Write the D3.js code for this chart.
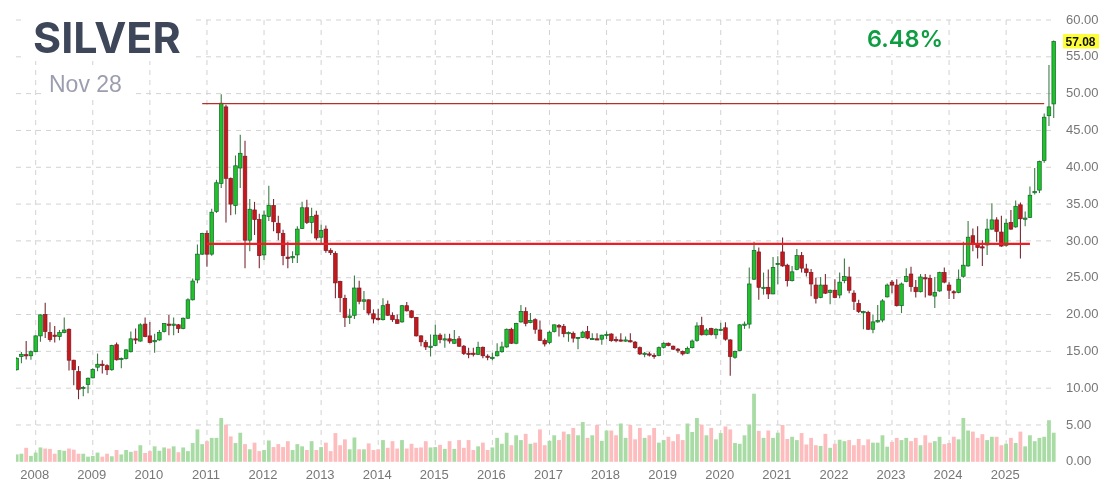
<!DOCTYPE html>
<html>
<head>
<meta charset="utf-8">
<script src="https://cdnjs.cloudflare.com/ajax/libs/d3/7.8.5/d3.min.js"></script>
<style>
  html, body { margin: 0; padding: 0; background: #fff; }
  svg { display: block; filter: blur(0.35px); }
  .axis text { font-family: "Liberation Sans", Arial, sans-serif; font-size: 13px; fill: #777; }
  .axis path, .axis line { display: none; }
</style>
</head>
<body>
<svg id="chart" width="1108" height="493"></svg>
<script>
// monthly candles, Sep 2007 .. Nov 2025
const opens = [
  12.5, 14.3, 14.55, 14.4,
  14.95, 17.1, 20, 17.55, 17.2, 17, 17.55, 18, 13.8, 12.25, 10, 10.5,
  11.4, 12.85, 13.25, 13.05, 12.5, 15.9, 13.9, 14.05, 14.95, 16.7, 16.4, 18.7,
  17.1, 16.3, 16.55, 17.7, 18.7, 18.6, 18.6, 18.1, 19.5, 22, 24.7, 28.2,
  31, 28.2, 34, 37.8, 48.2, 38.5, 34.8, 39.9, 41.5, 30.1, 34.2, 32.9,
  28.1, 33.3, 34.8, 32.4, 31, 27.8, 27.7, 28.1, 31.7, 34.5, 32.5, 33.5,
  30.5, 31.6, 28.7, 28.3, 24.5, 22.2, 19.6, 19.9, 23.6, 21.8, 22, 20.1,
  19.5, 19.3, 21.4, 19.9, 19.3, 19, 21.2, 20.5, 19.6, 17.1, 16.2, 15.6,
  15.8, 17.2, 16.6, 16.7, 16.1, 16.7, 15.7, 14.75, 14.75, 14.6, 15.55, 14.35,
  14.1, 14.4, 14.95, 15.6, 18, 16.1, 19, 20.4, 18.9, 19.3, 17.9, 16.5,
  16.2, 17.7, 18.5, 18.4, 17.45, 17.45, 16.8, 16.9, 17.7, 16.7, 16.7, 16.65,
  17.2, 17.35, 16.6, 16.55, 16.45, 16.45, 16.25, 15.5, 14.65, 14.65, 14.45, 14.45,
  15.55, 16.1, 15.7, 15.3, 15, 14.75, 15.5, 16.5, 18.5, 17.25, 18.1, 17.25,
  17.9, 18.2, 16.55, 14.2, 15.1, 18.6, 18.7, 24.8, 28.5, 23.6, 23.7, 22.8,
  26.85, 28.5, 26.7, 24.6, 26.1, 28, 26.2, 25.7, 24, 22.3, 24, 23,
  23.3, 22.65, 24.6, 25.1, 22.9, 21.5, 20.3, 20.3, 18, 19, 19.25, 22.4,
  24.4, 24, 21.2, 24.5, 25.5, 23.7, 23.1, 25, 24.9, 22.5, 23.2, 25.7,
  24, 23.1, 23, 25.2, 26.6, 30.7, 29.6, 29.2, 29.45, 31.6, 32.85, 31.2,
  29.4, 32.5, 31.9, 34.9, 33, 33.2, 36.6, 36.9, 40.9, 47, 48.6
];
const highs = [
  14.2, 14.9, 16.4, 15.1,
  17.2, 20, 21.6, 18.95, 18.45, 17.9, 19.6, 18.1, 13.85, 13, 10.3, 11.45,
  12.7, 14.7, 13.8, 13.25, 15.9, 16.2, 14.15, 15.3, 17.7, 18.1, 18.8, 19.6,
  19, 17.4, 17.9, 18.8, 19.95, 19.6, 18.7, 19.6, 22.2, 24.9, 29.5, 31.1,
  31.4, 34.35, 38.3, 49.9, 48.5, 38.6, 41.6, 44.4, 43.6, 35.7, 35.3, 33.7,
  34.1, 37.5, 35.7, 33.4, 31.5, 29.9, 28.6, 32, 35.3, 35.6, 34.5, 34.1,
  32.2, 32.1, 29, 28.6, 24.6, 22.7, 20.8, 25.3, 24.6, 23.2, 22.05, 20.7,
  20.8, 22.2, 21.9, 20.3, 20, 21.3, 21.7, 20.6, 19.65, 17.2, 16.55, 17.3,
  18.6, 17.45, 17.4, 17.4, 17.9, 17.1, 15.85, 15.5, 15.5, 16.3, 15.65, 14.6,
  14.8, 16.1, 16.3, 18.1, 18.2, 18.9, 21.3, 21, 20.2, 19.5, 19.2, 16.75,
  17.8, 18.65, 18.7, 18.7, 17.7, 17.7, 16.95, 17.8, 18.45, 17.45, 17.45, 17.25,
  17.7, 17.45, 17, 17.45, 17, 17.45, 16.4, 15.65, 14.9, 14.9, 14.75, 15.65,
  16.25, 16.2, 15.8, 15.45, 15.1, 15.65, 16.6, 18.95, 19.7, 18.15, 18.2, 18.15,
  18.9, 18.95, 16.65, 15.1, 18.7, 19.05, 26.4, 29.9, 29.1, 25.7, 26.1, 27.8,
  27.9, 30.45, 26.9, 26.6, 28.9, 28.5, 26.9, 26.2, 25, 25.1, 25.5, 23.4,
  24.8, 25.7, 27.6, 26.5, 23.3, 22, 20.5, 20.5, 20, 21.3, 22.1, 24.2,
  24.7, 24.8, 24.35, 26.3, 26.5, 24.7, 25.5, 25.5, 25.4, 25.1, 25.8, 26.4,
  24.4, 23.3, 26.1, 29.9, 32.7, 31.7, 32, 30.1, 33, 35.1, 33.2, 33.4,
  33, 34.2, 35.5, 35.2, 34, 37.4, 39.9, 40.9, 47.3, 53.9, 57.2
];
const lows = [
  12.4, 13.4, 13.9, 13.85,
  14.9, 16.3, 16.8, 16.3, 16.2, 16.5, 17.45, 12.4, 10.4, 8.5, 8.9, 9.3,
  11.35, 12.3, 12, 11.8, 12.35, 13.75, 12.7, 13.9, 14.85, 16, 16.3, 16.9,
  16.1, 14.8, 16.45, 17.55, 17.2, 17.2, 17.5, 18, 19.4, 21.9, 24.25, 28.1,
  26.5, 28, 33.8, 37.2, 32.5, 33.5, 33.6, 37.2, 26.3, 28.6, 30.8, 26.3,
  27.4, 32.7, 31.3, 30.1, 26.7, 26.3, 27, 27, 31.6, 32.3, 31, 30.1,
  29.5, 28.4, 28.1, 22.2, 20.3, 18.3, 18.7, 19.4, 21.4, 20.6, 19.9, 18.8,
  19.2, 19.2, 19.8, 19, 18.75, 18.9, 20.4, 19.5, 17, 15.7, 15.2, 14.3,
  15.7, 16.1, 15.5, 16.05, 16, 15.6, 14.5, 14.05, 14.3, 14.5, 14.05, 13.8,
  13.8, 14.3, 14.8, 15.5, 16, 15.95, 18.9, 18.4, 18.8, 17.4, 16.4, 15.65,
  16, 17.55, 17, 16.9, 16.3, 16.2, 15.3, 16.8, 16.65, 16.55, 16.55, 15.9,
  16.65, 16.3, 16.25, 16.3, 16.3, 16.2, 15.35, 14.5, 14.2, 14.3, 14, 14.35,
  15.4, 15.7, 15.2, 14.8, 14.45, 14.65, 15.4, 16.3, 17.15, 17.15, 17.15, 16.7,
  17.8, 16.45, 11.7, 14, 15, 18.05, 18.1, 24.7, 22, 22.7, 22.1, 22.75,
  24.1, 26.5, 23.8, 24.5, 26, 25.7, 25.15, 22.5, 21.5, 22.2, 22.8, 21.4,
  22.2, 22.2, 24.25, 22.9, 20.6, 20.2, 18, 17.9, 17.45, 18.9, 18.95, 22.3,
  22.9, 21.1, 20.2, 24.4, 23.1, 22.3, 23, 22.3, 22.55, 20.9, 23.1, 24.25,
  22.1, 22.1, 22.9, 25, 26.5, 28.6, 27.6, 26.6, 28.1, 31.5, 29.9, 29.2,
  29.2, 31.5, 31.8, 27.6, 32, 33.1, 36.3, 36.5, 40.6, 45.6, 46.7
];
const closes = [
  14.05, 14.6, 14.4, 14.95,
  17.1, 19.95, 17.7, 16.6, 17.1, 17.55, 17.9, 13.8, 12.5, 9.85, 10.1, 11.35,
  12.55, 13.25, 13.1, 12.5, 15.8, 13.85, 14.05, 15.2, 16.7, 16.55, 18.6, 17,
  16.2, 16.5, 17.55, 18.8, 18.6, 18.7, 18.1, 19.5, 22, 24.55, 28.2, 31,
  28.2, 33.9, 37.9, 48.7, 38.5, 35, 40.2, 41.9, 30.1, 34.3, 32.9, 28,
  33.5, 34.8, 32.6, 31.1, 28, 27.6, 27.9, 31.6, 34.5, 32.5, 33.3, 30.4,
  31.4, 28.7, 28.4, 24.3, 22.3, 19.6, 19.8, 23.6, 21.8, 22, 20.2, 19.4,
  19.3, 21.2, 19.9, 19.3, 18.8, 21.2, 20.5, 19.6, 17.1, 16.3, 15.6, 15.7,
  17.2, 16.6, 16.7, 16.4, 16.6, 15.7, 14.7, 14.7, 14.7, 15.55, 14.4, 14.25,
  14.2, 14.95, 15.6, 18, 16.1, 18.8, 20.4, 18.8, 19.2, 18, 16.5, 16,
  17.6, 18.6, 18.3, 17.4, 17.55, 16.8, 16.9, 17.6, 16.8, 16.75, 16.65, 17.2,
  17.3, 16.45, 16.5, 16.45, 16.55, 16.35, 15.5, 14.65, 14.75, 14.55, 14.35, 15.5,
  16.1, 15.8, 15.3, 15.25, 14.65, 15.4, 16.4, 18.45, 17.25, 17.9, 17.3, 18,
  18, 16.65, 14.3, 15, 18.6, 18.7, 24.15, 28.7, 23.7, 23.7, 22.8, 26.4,
  26.95, 26.6, 24.6, 25.8, 28, 26.3, 25.7, 24.15, 22.2, 24, 22.9, 23.3,
  22.3, 24.4, 25.15, 23.3, 21.8, 20.4, 20.4, 18, 19, 19.2, 21.85, 24,
  24, 21.2, 24.15, 25.15, 23.8, 23.1, 25.1, 24.9, 22.65, 23, 25.7, 24.4,
  23.3, 23, 24.8, 26.7, 30.5, 29.6, 29.1, 29.15, 31.6, 32.85, 31.3, 29.3,
  32.4, 31.6, 34.7, 33, 33.1, 36.2, 36.7, 40.8, 46.8, 48.2, 57.08
];
// negative = down month, drawn pink
const volumes = [
  1, 1.1, -1.9, 0.8,
  1.25, 1.95, -1.8, -1.75, -1.1, 1.6, 1.5, -1.8, -1.65, -1.1, 1.1, 0.7,
  0.8, 1.25, -0.7, -1.1, 0.75, -1.6, 1, 1.6, 1.35, -1.5, 2.25, -1.2,
  -1.45, 2.1, 1.5, 1.95, -1.8, 2.1, -1.3, 1.95, 1.45, 2.55, 4.4, 2.4,
  -2.8, 3.25, 3.25, 5.95, -5.05, -3.45, 2.55, 3.95, -2.4, 1.7, -2.6, -1.45,
  1.6, 2.9, -2, -2.4, -2, -2.8, 1.6, 2.4, 2.1, -1.6, 2.8, -1.6,
  2, -2.6, -1.45, -3.9, -2.25, -3.05, 1.7, 3.3, -1.7, 1.7, -2.5, -1.6,
  -1.7, 2.95, -1.9, -2.8, -1.8, 2.95, -1.8, -2.45, -1.9, -1.95, -2.8, 1.95,
  2, -2.3, 1.75, -2.8, 1.75, -2.95, -1.9, -2.95, -1.6, 2.1, -2.6, -1.6,
  1.95, 3.25, 2.45, 3.95, -2.25, 3.6, 2.95, -3.8, 2.45, -2.6, -4.4, -2.25,
  2.85, 3.6, -2.95, -4.1, 3.75, -4.6, 3.6, 5.4, -3.25, 3.6, -5, 2.85,
  4.25, -4.25, -3.6, 5.2, 3.25, -5, -3.05, -4.6, 3.25, -3.6, -4.6, 2.6,
  2.95, -3.4, -2.8, -3.75, -2.95, 5.2, 4.05, 5.95, -5.05, 3.6, -4.6, 3.05,
  3.9, -4.8, -4.4, 2.55, 2.45, 3.6, 5.05, 9.25, -4.2, 3.25, -4.25, 3.25,
  3.95, -5, -3.1, 3.4, 2.95, -3.9, -2.35, -3.25, -2.25, 2.15, -3.8, 1.9,
  -2.45, 3, 2.8, -2.95, -2.25, -3.1, -2.25, -3.05, 2.6, 2.6, 3.6, 2.05,
  -2.7, -3.25, 2.95, 3.25, -2.8, -3.25, 2.25, -3.6, -2.6, 2.8, 3.4, -2.4,
  -2.55, -3.4, 3.05, 5.95, 4.25, -4.1, -3.25, -3.75, 2.95, 3.4, -3.4, -2.25,
  2.45, -3.25, 2.55, -4.1, 2.1, 3.6, 2.8, 3.25, 3.4, 5.65, 3.95
];
const yearLabels = ["2008", "2009", "2010", "2011", "2012", "2013", "2014", "2015", "2016",
  "2017", "2018", "2019", "2020", "2021", "2022", "2023", "2024", "2025"];
const priceTicks = [0, 5, 10, 15, 20, 25, 30, 35, 40, 45, 50, 55, 60];
const lastClose = 57.08;
const levels = [
  { value: 48.65, from: 39, to: 216, color: "#b5302a", width: 1.2 },
  { value: 29.6, from: 40, to: 213, color: "#ee1c25", width: 2.2 }
];

const svg = d3.select("#chart");
const indices = d3.range(opens.length);
if ([highs, lows, closes, volumes].some(a => a.length !== opens.length)) throw new Error("length mismatch");

const xScale = d3.scaleBand().domain(indices).range([14.29, 1056.1]);
const yScale = d3.scaleLinear().domain([0, 60]).range([461.8, 20]);
const center = i => xScale(i) + xScale.bandwidth() / 2;
const yearIndex = k => 4 + k * 12; // first candle is Sep 2007

svg.append("defs").append("clipPath").attr("id", "plot")
  .append("rect").attr("x", 16).attr("y", 0).attr("width", 1042).attr("height", 470);

// grid
const grid = svg.append("g").attr("stroke", "#d2d2d2").attr("stroke-width", 1).attr("stroke-dasharray", "5 5");
grid.selectAll(".h").data(priceTicks.slice(1)).join("line").attr("class", "h")
  .attr("x1", 16).attr("x2", 1054).attr("y1", d => yScale(d)).attr("y2", d => yScale(d));
grid.selectAll(".v").data(yearLabels).join("line").attr("class", "v")
  .attr("x1", (d, k) => center(yearIndex(k))).attr("x2", (d, k) => center(yearIndex(k)))
  .attr("y1", yScale(60)).attr("y2", yScale(0));

// title boxes hide the grid behind the text
const patches = svg.append("g").attr("fill", "#fff");
patches.append("rect").attr("x", 24).attr("y", 14).attr("width", 168).attr("height", 47);
patches.append("rect").attr("x", 44).attr("y", 70).attr("width", 90).attr("height", 30);
patches.append("rect").attr("x", 862).attr("y", 24).attr("width", 84).attr("height", 30);

const plot = svg.append("g").attr("clip-path", "url(#plot)");

// volume
plot.selectAll(".vol").data(indices).join("rect").attr("class", "vol")
  .attr("x", i => center(i) - 1.9)
  .attr("width", 3.8)
  .attr("y", i => yScale(Math.abs(volumes[i])))
  .attr("height", i => yScale(0) - yScale(Math.abs(volumes[i])))
  .attr("fill", i => volumes[i] >= 0 ? "#a9dca5" : "#fdbcbd");

// wicks
plot.selectAll(".wick").data(indices).join("line").attr("class", "wick")
  .attr("x1", center).attr("x2", center)
  .attr("y1", i => yScale(highs[i])).attr("y2", i => yScale(lows[i]))
  .attr("stroke", i => closes[i] >= opens[i] ? "#3c7d46" : "#7c2a35")
  .attr("stroke-width", 1.1);

// bodies
plot.selectAll(".body").data(indices).join("rect").attr("class", "body")
  .attr("x", i => center(i) - 1.8)
  .attr("width", 3.6)
  .attr("y", i => yScale(Math.max(opens[i], closes[i])))
  .attr("height", i => Math.max(1.2, Math.abs(yScale(opens[i]) - yScale(closes[i]))))
  .attr("fill", i => closes[i] >= opens[i] ? "#1fc22a" : "#c5181d")
  .attr("stroke", i => closes[i] >= opens[i] ? "#14632a" : "#7c1a22")
  .attr("stroke-width", 0.7);

// drawn levels
svg.selectAll(".level").data(levels).join("line").attr("class", "level")
  .attr("x1", d => center(d.from)).attr("x2", d => center(d.to))
  .attr("y1", d => yScale(d.value)).attr("y2", d => yScale(d.value))
  .attr("stroke", d => d.color).attr("stroke-width", d => d.width);

// axes
const yAxis = d3.axisRight(yScale).tickValues(priceTicks).tickFormat(d3.format(".2f")).tickSize(0).tickPadding(0);
svg.append("g").attr("class", "axis").attr("transform", "translate(1066, -1)").call(yAxis);

const xAxis = d3.axisBottom(xScale)
  .tickValues(yearLabels.map((d, k) => yearIndex(k)))
  .tickFormat(i => yearLabels[(i - 4) / 12])
  .tickSize(0).tickPadding(0);
svg.append("g").attr("class", "axis").attr("transform", "translate(-1, 470)").call(xAxis);

// last price tag
const tagY = yScale(lastClose);
svg.append("rect").attr("x", 1063).attr("y", tagY - 7.5).attr("width", 36).attr("height", 14.5).attr("fill", "#fdfd38");
svg.append("text").attr("x", 1065.5).attr("y", tagY + 4)
  .attr("font-family", "Liberation Sans, Arial, sans-serif").attr("font-size", 12).attr("font-weight", 700)
  .attr("fill", "#111").text(lastClose.toFixed(2));

// titles
svg.append("text").attr("x", 33).attr("y", 53)
  .attr("font-family", "Inter, sans-serif").attr("font-size", 43).attr("font-weight", 700)
  .attr("fill", "#3e465a").text("SILVER");
svg.append("text").attr("x", 49).attr("y", 92)
  .attr("font-family", "Liberation Sans, Arial, sans-serif").attr("font-size", 23)
  .attr("fill", "#9c9eb0").text("Nov 28");
svg.append("text").attr("x", 867).attr("y", 47)
  .attr("font-family", "Inter, sans-serif").attr("font-size", 23.5).attr("font-weight", 600)
  .attr("fill", "#0f9d43").text("6.48%");
</script>
</body>
</html>
